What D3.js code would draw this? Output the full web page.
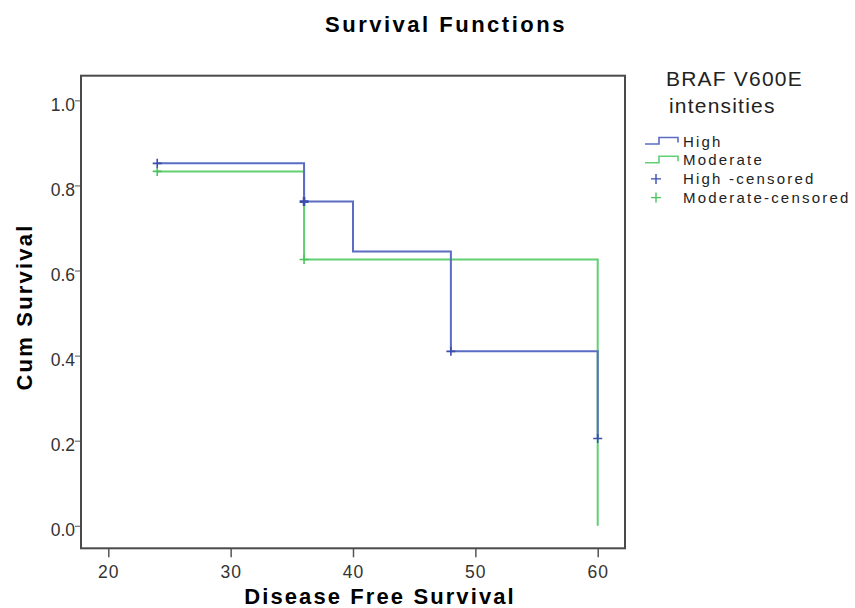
<!DOCTYPE html>
<html>
<head>
<meta charset="utf-8">
<script src="https://cdn.jsdelivr.net/npm/d3@7"></script>
<style>
  body { margin: 0; background: #fff; }
  text { font-family: "Liberation Sans", Arial, sans-serif; }
</style>
</head>
<body>
<div id="chart"></div>
<script>
// survival data
const highTimes = [24, 36, 40, 48, 60]
const highSurvival = [0.852, 0.762, 0.645, 0.410, 0.205]
const highCensoredTimes = [24, 36, 48, 60]
const highCensoredSurvival = [0.852, 0.762, 0.410, 0.205]

const moderateTimes = [24, 36, 60]
const moderateSurvival = [0.833, 0.626, 0.0]
const moderateCensoredTimes = [24, 36]
const moderateCensoredSurvival = [0.833, 0.626]

const xTicks = [20, 30, 40, 50, 60]
const yTicks = [0.0, 0.2, 0.4, 0.6, 0.8, 1.0]

const legendTitle = ["BRAF V600E", "intensities"]
const legendLabels = ["High", "Moderate", "High -censored", "Moderate-censored"]

const BLUE = "#5a6dc2", GREEN = "#62d072"
const BLUE_DARK = "#3a4ead", GREEN_DARK = "#4cc45e"

const WIDTH = 855, HEIGHT = 608
const MARGIN = { top: 75.7, right: 230, bottom: 59.7, left: 81 }

const svg = d3.select("#chart").append("svg")
  .attr("width", WIDTH)
  .attr("height", HEIGHT)

const x = d3.scaleLinear().domain([17.77, 62.23]).range([MARGIN.left, WIDTH - MARGIN.right])
const y = d3.scaleLinear().domain([-0.053, 1.058]).range([HEIGHT - MARGIN.bottom, MARGIN.top])

// title
svg.append("text")
  .attr("x", 446).attr("y", 32)
  .attr("text-anchor", "middle")
  .attr("font-size", "22px").attr("font-weight", "bold")
  .attr("letter-spacing", "2.5px")
  .text("Survival Functions")

// axes
const yAxis = svg.append("g")
  .attr("transform", `translate(${MARGIN.left},0)`)
  .call(d3.axisLeft(y).tickValues(yTicks).tickSize(6).tickFormat(d3.format(".1f")))
yAxis.select(".domain").remove()
yAxis.selectAll(".tick line").attr("stroke", "#555")
yAxis.selectAll(".tick text")
  .attr("x", -6).attr("dy", "0.57em")
  .attr("font-size", "17.5px")
  .attr("fill", "#333")
  .attr("font-family", "'Liberation Sans', Arial, sans-serif")

const xAxis = svg.append("g")
  .attr("transform", `translate(0,${y.range()[0]})`)
  .call(d3.axisBottom(x).tickValues(xTicks).tickSize(9))
xAxis.select(".domain").remove()
xAxis.selectAll(".tick line").attr("stroke", "#555").attr("stroke-width", 1.5)
xAxis.selectAll(".tick text")
  .attr("y", 17.5)
  .attr("font-size", "17.5px").attr("letter-spacing", "1px")
  .attr("fill", "#333")
  .attr("font-family", "'Liberation Sans', Arial, sans-serif")

// frame
svg.append("rect")
  .attr("x", x.range()[0]).attr("y", y.range()[1])
  .attr("width", x.range()[1] - x.range()[0])
  .attr("height", y.range()[0] - y.range()[1])
  .attr("fill", "none").attr("stroke", "#4a4a4a").attr("stroke-width", 2)

// axis titles
svg.append("text")
  .attr("x", 380).attr("y", 604)
  .attr("text-anchor", "middle")
  .attr("font-size", "22px").attr("font-weight", "bold")
  .attr("letter-spacing", "2.1px")
  .text("Disease Free Survival")

svg.append("text")
  .attr("transform", "translate(32,307) rotate(-90)")
  .attr("text-anchor", "middle")
  .attr("font-size", "22px").attr("font-weight", "bold")
  .attr("letter-spacing", "2.2px")
  .text("Cum Survival")

// step lines
const line = d3.line()
  .x(d => x(d[0]))
  .y(d => y(d[1]))
  .curve(d3.curveStepAfter)

const series = [
  { times: moderateTimes, surv: moderateSurvival, color: GREEN },
  { times: highTimes, surv: highSurvival, color: BLUE }
]
series.forEach(s => {
  svg.append("path")
    .datum(s.times.map((t, i) => [t, s.surv[i]]))
    .attr("fill", "none")
    .attr("stroke", s.color)
    .attr("stroke-width", 2)
    .attr("d", line)
})

// censored marks
const crossPath = (cx, cy, r) => `M${cx - r},${cy}H${cx + r}M${cx},${cy - r}V${cy + r}`
const censored = [
  { times: moderateCensoredTimes, surv: moderateCensoredSurvival, color: GREEN_DARK },
  { times: highCensoredTimes, surv: highCensoredSurvival, color: BLUE_DARK }
]
censored.forEach(c => {
  svg.append("g").selectAll("path")
    .data(c.times.map((t, i) => [t, c.surv[i]]))
    .join("path")
    .attr("d", d => crossPath(x(d[0]), y(d[1]), 4.5))
    .attr("stroke", c.color)
    .attr("stroke-width", (d, i) => d[0] === 36 && c.color === BLUE_DARK ? 2.6 : 1.6)
    .attr("fill", "none")
})

// legend
const legend = svg.append("g")
legend.selectAll("text.ltitle")
  .data(legendTitle)
  .join("text")
  .attr("class", "ltitle")
  .attr("x", (d, i) => i === 0 ? 666 : 669)
  .attr("y", (d, i) => 85.5 + i * 27.8)
  .attr("font-size", "21px").attr("letter-spacing", "1.2px")
  .attr("fill", "#222")
  .text(d => d)

const legendColors = [BLUE, GREEN, BLUE_DARK, GREEN_DARK]
const rowY = i => 146.5 + i * 18.7

legend.selectAll("text.lab")
  .data(legendLabels)
  .join("text")
  .attr("class", "lab")
  .attr("x", 683)
  .attr("y", (d, i) => rowY(i))
  .attr("font-size", "15px").attr("letter-spacing", "2.2px")
  .attr("fill", "#222")
  .text(d => d)

legendLabels.forEach((d, i) => {
  const ry = rowY(i)
  if (i < 2) {
    legend.append("path")
      .attr("d", `M645,${ry - 2.5}H659V${ry - 9}H678V${ry - 4}`)
      .attr("fill", "none")
      .attr("stroke", legendColors[i])
      .attr("stroke-width", 1.6)
  } else {
    legend.append("path")
      .attr("d", crossPath(656, ry - 5, 5))
      .attr("fill", "none")
      .attr("stroke", legendColors[i])
      .attr("stroke-width", 1.4)
  }
})
</script>
</body>
</html>
